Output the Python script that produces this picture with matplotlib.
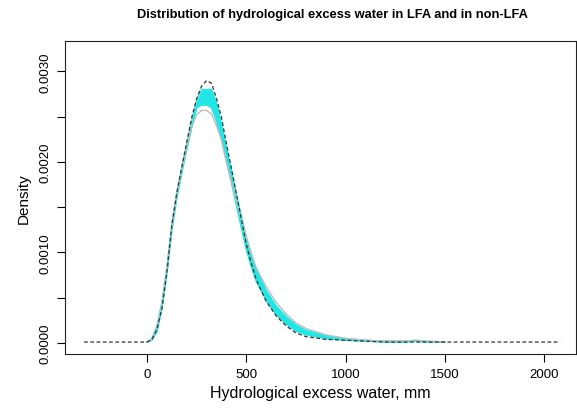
import matplotlib
matplotlib.use('Agg')
import matplotlib.pyplot as plt

# non-LFA density (dashed)
x_non = [-317, 0, 25, 50, 75, 100, 125, 150, 175, 200, 225, 250, 275, 300, 325,
         350, 375, 400, 425, 450, 475, 500, 525, 550, 600, 650, 700, 750, 800,
         900, 1000, 1100, 1200, 1500, 2080]
d_non = [0.00001, 0.00001, 0.00004, 0.00015, 0.00038, 0.00078, 0.0013, 0.00166,
         0.00194, 0.00222, 0.00249, 0.0027, 0.00284, 0.0029, 0.00287, 0.0027,
         0.00249, 0.0022, 0.00193, 0.00165, 0.00137, 0.00109, 0.00088, 0.0007,
         0.00046, 0.0003, 0.00019, 0.00011, 0.00007, 0.00004, 0.00003, 0.00002,
         0.00001, 0.00001, 0.00001]

# LFA resamples envelope (cyan band)
x_lfa = [0, 25, 50, 75, 100, 125, 150, 175, 200, 225, 250, 275, 300, 325, 350,
         375, 400, 425, 450, 475, 500, 525, 550, 600, 650, 700, 750, 800, 900,
         1000, 1100, 1200, 1300, 1350, 1400, 1500]
lfa_hi = [0.00001, 0.00005, 0.00019, 0.00045, 0.00084, 0.00132, 0.00166, 0.00194,
          0.0022, 0.00245, 0.00268, 0.0028, 0.0028, 0.0028, 0.00265, 0.00242,
          0.00215, 0.0019, 0.00164, 0.0014, 0.00117, 0.00098, 0.00081, 0.00058,
          0.00041, 0.00029, 0.0002, 0.00014, 0.00008, 0.00005, 0.00003, 0.00002,
          0.00002, 0.00003, 0.00002, 0.00001]
lfa_lo = [0.00001, 0.00003, 0.00013, 0.00038, 0.00076, 0.00124, 0.0016, 0.00188,
          0.00214, 0.00238, 0.0026, 0.00263, 0.00263, 0.0026, 0.00245, 0.00225,
          0.002, 0.00177, 0.00152, 0.00127, 0.00103, 0.00084, 0.00068, 0.00047,
          0.00031, 0.00021, 0.00013, 0.00009, 0.00005, 0.00003, 0.00002, 0.00001,
          0.00001, 0.00002, 0.00001, 0.00001]

# LFA single estimate (gray)
lfa_gray = [0.00001, 0.00004, 0.00017, 0.00042, 0.0008, 0.00128, 0.00163, 0.00191,
            0.00217, 0.0024, 0.00252, 0.00257, 0.00257, 0.00253, 0.0024, 0.00224,
            0.002, 0.00179, 0.00158, 0.00137, 0.00117, 0.00099, 0.00083, 0.00062,
            0.00045, 0.00032, 0.00022, 0.00016, 0.00009, 0.00005, 0.00003, 0.00002,
            0.00002, 0.00003, 0.00002, 0.00001]

x_ticks = [0, 500, 1000, 1500, 2000]
y_ticks = [0, 0.0005, 0.001, 0.0015, 0.002, 0.0025, 0.003]
y_labels = ['0.0000', '', '0.0010', '', '0.0020', '', '0.0030']

plt.rcParams['font.family'] = ['Liberation Sans', 'DejaVu Sans']

fig = plt.figure(figsize=(5.77, 4.14), dpi=100)
ax = fig.add_axes([65 / 577, 1 - 355 / 414, 511 / 577, 313 / 414])

ax.fill_between(x_lfa, lfa_lo, lfa_hi, color='#22e5e5', lw=0)
ax.plot(x_lfa, lfa_hi, color='#22e5e5', lw=1)
ax.plot(x_lfa, lfa_lo, color='#22e5e5', lw=1)
ax.plot(x_lfa, lfa_gray, color='#bdbdbd', lw=1)
ax.plot(x_non, d_non, color='#333333', lw=0.9, ls=(0, (3, 2)))

ax.set_xlim(-413, 2160)
ax.set_ylim(-0.000122, 0.003337)
ax.set_xticks(x_ticks)
ax.set_xticklabels([str(t) for t in x_ticks], fontsize=9.5)
ax.set_yticks(y_ticks)
ax.set_yticklabels(y_labels, fontsize=9.5, rotation=90, va='center')
ax.tick_params(length=6, width=0.8, pad=4)
for s in ax.spines.values():
    s.set_linewidth(0.8)
    s.set_color('#222222')

ax.set_xlabel('Hydrological excess water, mm', fontsize=11.5, labelpad=4)
ax.set_ylabel('Density', fontsize=11, labelpad=6)
fig.text(332 / 577, 1 - 15 / 414,
         'Distribution of hydrological excess water in LFA and in non-LFA',
         ha='center', va='center', fontsize=9.3, fontweight='bold')

fig.savefig('out.png', dpi=100)
